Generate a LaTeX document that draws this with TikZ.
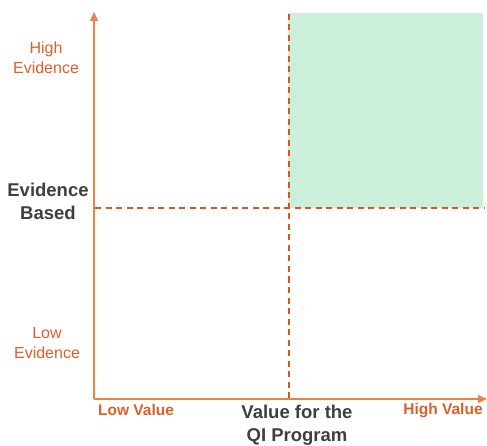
\documentclass[tikz,border=0pt]{standalone}
\usepackage{fontspec}
\setmainfont{Liberation Sans}
\usetikzlibrary{arrows.meta}
\definecolor{axiscol}{HTML}{E8834A}
\definecolor{dashcol}{HTML}{D4571C}
\definecolor{labcol}{HTML}{D9602A}
\definecolor{darktext}{HTML}{3F3F3F}
\definecolor{greenfill}{HTML}{CCEFDB}
\tikzset{
  axisline/.style={draw=axiscol, line width=1.2pt, -{Triangle[length=9pt,width=8pt]}},
  dashline/.style={draw=dashcol, line width=1.6pt, dash pattern=on 6pt off 4.5pt},
  lab/.style={text=labcol, font=\fontsize{16}{20}\selectfont, align=center, inner sep=0pt},
  blab/.style={text=labcol, font=\bfseries\fontsize{15.5}{18}\selectfont, align=center, inner sep=0pt},
  dlab/.style={text=darktext, font=\bfseries\fontsize{18.5}{23}\selectfont, align=center, inner sep=0pt}
}
\begin{document}
\begin{tikzpicture}[x=1pt,y=-1pt]
\useasboundingbox (0,0) rectangle (487,446);
\fill[greenfill] (288,13) rectangle (483,208);
\coordinate (O) at (94,399);
\coordinate (ytip) at (94,12);
\coordinate (xtip) at (487,399);
\coordinate (vtop) at (289,14);
\coordinate (vbot) at (289,399);
\coordinate (hl) at (95,208);
\coordinate (hr) at (484,208);
\draw[dashline] (vtop) -- (vbot);
\draw[dashline] (hl) -- (hr);
\draw[axisline] (O) -- (ytip);
\draw[axisline] (O) -- (xtip);
\node[lab] (he) at (46,58) {High\\Evidence};
\node[lab] (le) at (47,343) {Low\\Evidence};
\node[dlab] (eb) at (48,201) {Evidence\\Based};
\node[blab] (lv) at (136,410) {Low Value};
\node[blab] (hv) at (443,411) {High Value};
\node[dlab] (vq) at (297,425) {Value for the\\QI Program};
\end{tikzpicture}
\end{document}
